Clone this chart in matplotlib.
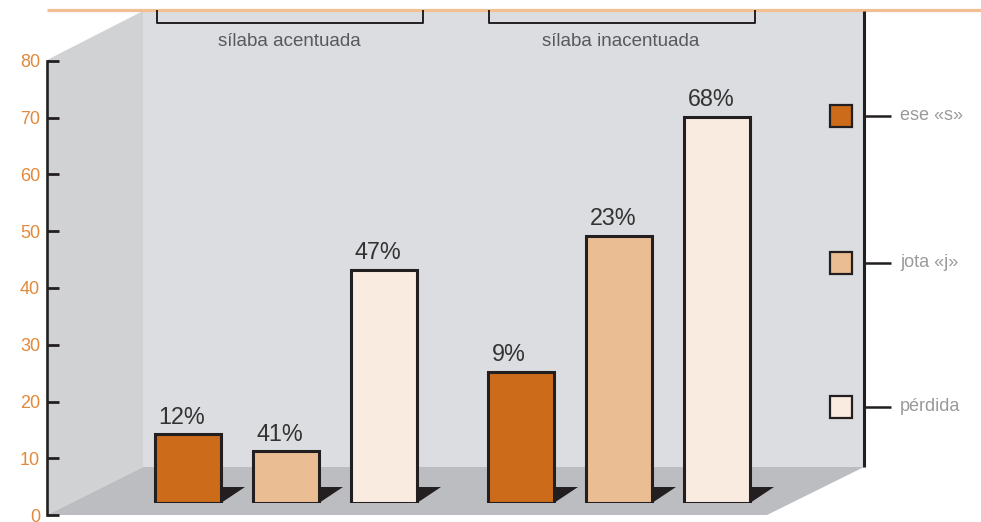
import matplotlib
matplotlib.use('Agg')
import matplotlib.pyplot as plt
from matplotlib.patches import Polygon, Rectangle

plt.rcParams['font.family'] = ['Liberation Sans Narrow', 'Liberation Sans', 'DejaVu Sans']

## data
groups = ['sílaba acentuada', 'sílaba inacentuada']
series = ['ese «s»', 'jota «j»', 'pérdida']
colors = ['#cc6c1a', '#ebbd93', '#f9ebdf']
heights_acentuada = [12, 9, 41]
heights_inacentuada = [23, 47, 68]
labels_acentuada = ['12%', '41%', '47%']
labels_inacentuada = ['9%', '23%', '68%']
yticks = [0, 10, 20, 30, 40, 50, 60, 70, 80]

W, H = 981, 522
edge = '#231f20'

fig = plt.figure(figsize=(W / 100, H / 100), dpi=100)

## background "3d" box, in pixel coordinates
bg = fig.add_axes([0, 0, 1, 1])
bg.set_xlim(0, W)
bg.set_ylim(H, 0)
bg.axis('off')
bg.add_patch(Polygon([(47, 60), (143, 11), (143, 467), (47, 515)], closed=True,
                     fc='#d1d2d4', ec='none'))
bg.add_patch(Rectangle((143, 11), 721, 456, fc='#dcdde0', ec='none'))
bg.add_patch(Polygon([(47, 515), (143, 467), (864, 467), (767, 515)], closed=True,
                     fc='#bcbdc1', ec='none'))
bg.plot([47, W], [9.5, 9.5], color='#f2bf93', lw=2.3, solid_capstyle='butt')
bg.plot([864, 864], [11, 467], color=edge, lw=2.2, solid_capstyle='butt')

## group brackets
for (x0, x1), name in zip([(157, 423), (489, 755)], groups):
    bg.plot([x0, x0, x1, x1], [11, 22.5, 22.5, 11], color=edge, lw=1.4)
    bg.text((x0 + x1) / 2 - 1, 46, name, ha='center', va='baseline',
            fontsize=13.5, color='#58595b')

## legend
for yc, name, c in zip([115.5, 262.5, 406.5], series, colors):
    bg.add_patch(Rectangle((830, yc - 11), 22, 22, fc=c, ec=edge, lw=1.6))
    bg.plot([864, 891], [yc, yc], color=edge, lw=1.8, solid_capstyle='butt')
    bg.text(900, yc, name, ha='left', va='center', fontsize=13, color='#9a9a9c')

## y axis (front edge of the box)
ax = fig.add_axes([47 / W, 7 / H, 817 / W, 454 / H])
ax.patch.set_visible(False)
ax.set_ylim(0, 80)
ax.set_xlim(0, 1)
for s in ['top', 'right', 'bottom']:
    ax.spines[s].set_visible(False)
ax.spines['left'].set_linewidth(1.9)
ax.spines['left'].set_color(edge)
ax.set_xticks([])
ax.set_yticks(yticks)
ax.tick_params(axis='y', direction='in', length=8.6, width=2, color=edge,
               labelcolor='#e2893b', labelsize=13, pad=5)

## bars, standing on the floor
axb = fig.add_axes([47 / W, 19.5 / H, 817 / W, 454 / H])
axb.patch.set_visible(False)
axb.axis('off')
axb.set_ylim(0, 80)
axb.set_xlim(-1.4345, 6.86)

width = 0.667
gap = 3.38
heights = [heights_acentuada, heights_inacentuada]
labels = [labels_acentuada, labels_inacentuada]
for g in range(len(groups)):
    xs = [g * gap + i * 0.995 for i in range(len(series))]
    for x, h, lab, c in zip(xs, heights[g], labels[g], colors):
        xr = x + width / 2
        # dark shadow at the foot of the bar
        axb.add_patch(Polygon([(xr, 0), (xr, 2.8), (xr + 0.245, 2.8)], closed=True,
                              fc=edge, ec='none', zorder=1))
        axb.annotate(lab, (x - width / 2, h), xytext=(2.2, 7.6), textcoords='offset points',
                     ha='left', va='baseline', fontsize=16.8, color='#333333')
    axb.bar(xs, heights[g], width=width, color=colors, edgecolor=edge,
            linewidth=2.2, zorder=2)

fig.savefig('out.png', dpi=100)
